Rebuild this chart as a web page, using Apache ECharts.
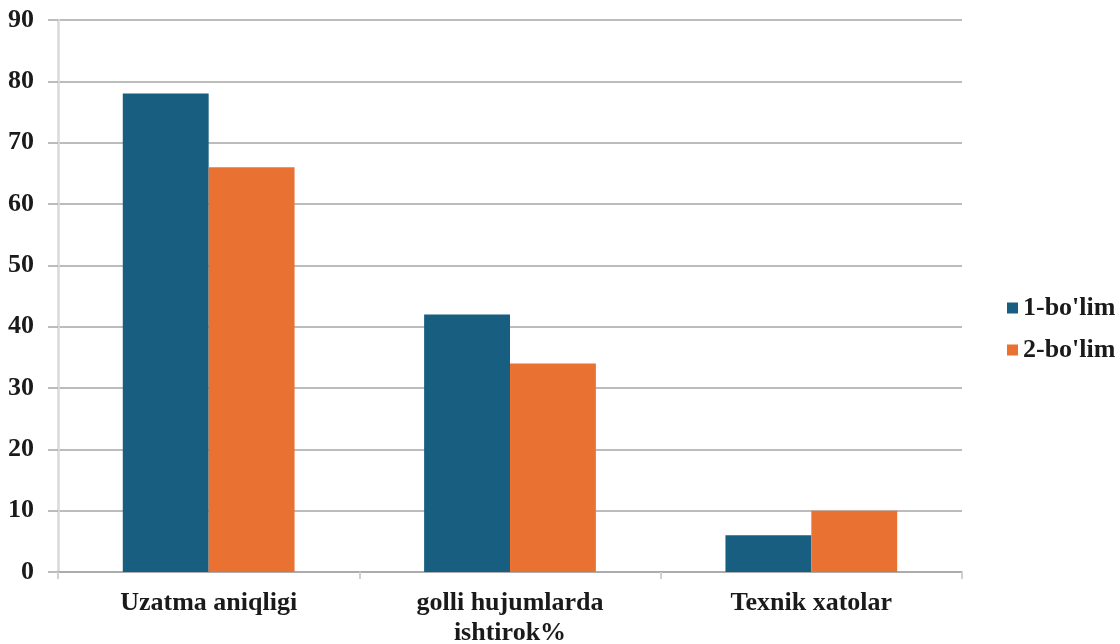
<!DOCTYPE html>
<html><head><meta charset="utf-8">
<script src="https://cdn.jsdelivr.net/npm/echarts@6/dist/echarts.min.js"></script>
<style>html,body{margin:0;padding:0;background:#fff}#c{width:1120px;height:644px}</style>
</head><body><div id="c"></div>
<script>
const categories = ['Uzatma aniqligi', 'golli hujumlarda\nishtirok%', 'Texnik xatolar'];
const series1 = [78, 42, 6];
const series2 = [66, 34, 10];
const seriesNames = ["1-bo'lim", "2-bo'lim"];
const font = "'Liberation Serif', 'Times New Roman', serif";
const chart = echarts.init(document.getElementById('c'));
chart.setOption({
  animation: false,
  grid: {left: 58, right: 158, top: 20, bottom: 72, containLabel: false, outerBoundsMode: 'none'},
  legend: {
    orient: 'vertical', left: 1002, top: 290, itemGap: 16,
    itemWidth: 11, itemHeight: 11, icon: 'rect',
    textStyle: {fontFamily: font, fontWeight: 'bold', fontSize: 26, color: '#1a1a1a'},
    data: seriesNames
  },
  xAxis: {
    type: 'category', data: categories,
    axisLine: {lineStyle: {color: '#a6a6a6', width: 1.5}},
    axisTick: {show: true, length: 7, lineStyle: {color: '#d0d0d0', width: 2}},
    axisLabel: {fontFamily: font, fontWeight: 'bold', fontSize: 26, color: '#1a1a1a', margin: 16, lineHeight: 30}
  },
  yAxis: {
    type: 'value', min: 0, max: 90, interval: 10,
    axisLine: {show: true, lineStyle: {color: '#d9d9d9', width: 2.5}},
    axisTick: {show: true, length: 10, lineStyle: {color: '#a6a6a6', width: 1.5}},
    splitLine: {lineStyle: {color: '#a6a6a6', width: 1.5}},
    axisLabel: {fontFamily: font, fontWeight: 'bold', fontSize: 26, color: '#1a1a1a', margin: 24}
  },
  series: [
    {name: seriesNames[0], type: 'bar', data: series1, barGap: '0%', barCategoryGap: '43%', itemStyle: {color: '#175e80'}},
    {name: seriesNames[1], type: 'bar', data: series2, barGap: '0%', barCategoryGap: '43%', itemStyle: {color: '#e97132'}}
  ]
});
</script></body></html>
